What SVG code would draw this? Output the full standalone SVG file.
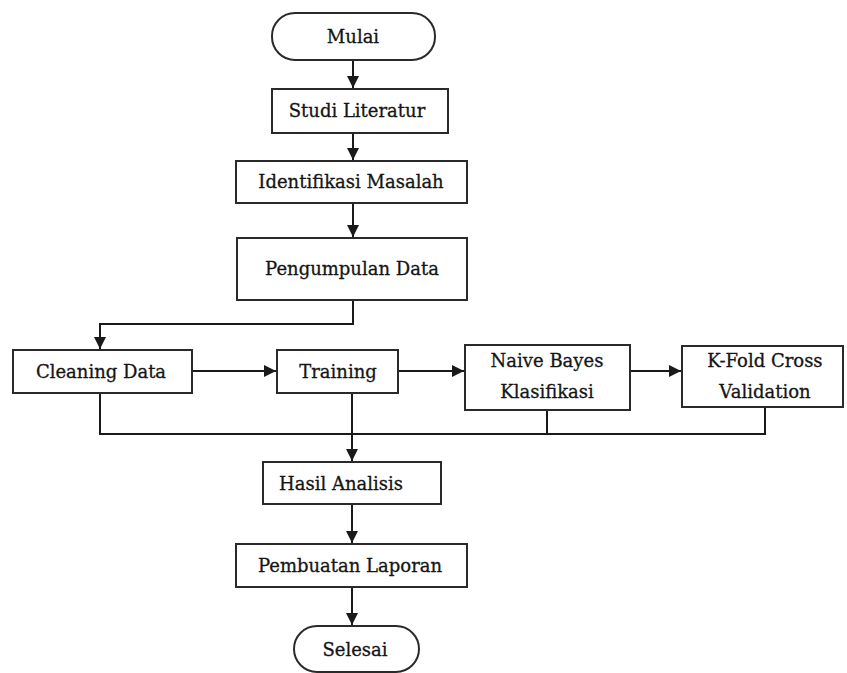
<svg xmlns="http://www.w3.org/2000/svg" width="847" height="673" viewBox="0 0 847 673">
<defs>
<marker id="ah" viewBox="0 0 10 10" refX="10" refY="5" markerWidth="6" markerHeight="6" markerUnits="strokeWidth" orient="auto">
<path d="M0,0 L10,5 L0,10 z" fill="#1a1a1a"/>
</marker>
</defs>
<style>
.box{fill:#fff;stroke:#2a2a2a;stroke-width:2}
.lbl{font-family:"DejaVu Serif","Liberation Serif",serif;font-size:18px;fill:#151515;text-anchor:middle;stroke:#151515;stroke-width:0.3}
.ln{fill:none;stroke:#1a1a1a;stroke-width:2}
</style>
<rect width="847" height="673" fill="#fff"/>
<g id="connectors">
<line class="ln" x1="353" y1="60" x2="353" y2="88" marker-end="url(#ah)"/>
<line class="ln" x1="353" y1="133" x2="353" y2="160" marker-end="url(#ah)"/>
<line class="ln" x1="353" y1="203" x2="353" y2="237" marker-end="url(#ah)"/>
<polyline class="ln" points="353,300 353,324 100,324 100,349" marker-end="url(#ah)"/>
<line class="ln" x1="192" y1="371" x2="276" y2="371" marker-end="url(#ah)"/>
<line class="ln" x1="398" y1="371" x2="464" y2="371" marker-end="url(#ah)"/>
<line class="ln" x1="630" y1="371" x2="681" y2="371" marker-end="url(#ah)"/>
<polyline class="ln" points="100,393 100,434 765,434 765,407"/>
<line class="ln" x1="547" y1="410" x2="547" y2="434"/>
<line class="ln" x1="352" y1="393" x2="352" y2="461" marker-end="url(#ah)"/>
<line class="ln" x1="352" y1="504" x2="352" y2="543" marker-end="url(#ah)"/>
<line class="ln" x1="352" y1="587" x2="352" y2="625" marker-end="url(#ah)"/>
</g>
<g id="mulai"><rect class="box" x="272" y="13" width="163" height="47" rx="23" ry="23"/><text class="lbl" x="353" y="43">Mulai</text></g>
<g id="studi"><rect class="box" x="272" y="89" width="176" height="44"/><text class="lbl" x="357" y="117">Studi Literatur</text></g>
<g id="identifikasi"><rect class="box" x="236" y="161" width="231" height="42"/><text class="lbl" x="351" y="188">Identifikasi Masalah</text></g>
<g id="pengumpulan"><rect class="box" x="237" y="238" width="230" height="62"/><text class="lbl" x="352" y="275">Pengumpulan Data</text></g>
<g id="cleaning"><rect class="box" x="13" y="350" width="179" height="43"/><text class="lbl" x="101" y="378">Cleaning Data</text></g>
<g id="training"><rect class="box" x="277" y="350" width="121" height="43"/><text class="lbl" x="338" y="378">Training</text></g>
<g id="naive"><rect class="box" x="465" y="345" width="165" height="65"/><text class="lbl" x="547" y="367">Naive Bayes</text><text class="lbl" x="547" y="398">Klasifikasi</text></g>
<g id="kfold"><rect class="box" x="682" y="346" width="161" height="61"/><text class="lbl" x="765" y="367">K-Fold Cross</text><text class="lbl" x="765" y="398">Validation</text></g>
<g id="hasil"><rect class="box" x="263" y="462" width="178" height="42"/><text class="lbl" x="341" y="490">Hasil Analisis</text></g>
<g id="pembuatan"><rect class="box" x="236" y="544" width="231" height="43"/><text class="lbl" x="350" y="572">Pembuatan Laporan</text></g>
<g id="selesai"><rect class="box" x="294" y="626" width="125" height="46" rx="23" ry="23"/><text class="lbl" x="355" y="656">Selesai</text></g>
</svg>
